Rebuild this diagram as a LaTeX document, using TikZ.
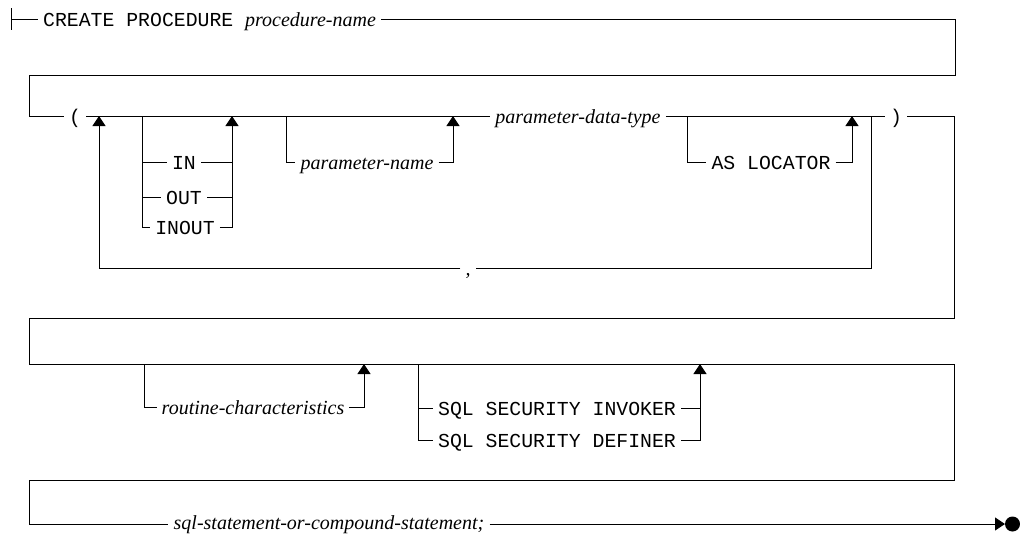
\documentclass[tikz,border=0pt]{standalone}
\usepackage{fontspec}
\setmainfont{Liberation Serif}
\setmonofont{Liberation Mono}
\usetikzlibrary{arrows.meta}
\newcommand\kwfont{\fontsize{19.8}{22}\selectfont\ttfamily}
\newcommand\varfont{\fontsize{20}{22}\selectfont\rmfamily\itshape}
\tikzset{
  rail/.style={line width=1pt},
  up/.style={rail,-{Triangle[width=13pt,length=10pt]}},
  kw/.style={font=\kwfont,inner xsep=5pt,inner ysep=0pt,text height=15pt,text depth=0pt,anchor=center},
  var/.style={font=\varfont,inner xsep=5pt,inner ysep=0pt,text height=15pt,text depth=0pt,anchor=center},
}

\begin{document}
\begin{tikzpicture}[x=1pt,y=-1pt]
  \useasboundingbox (0,0) rectangle (1020,536);
  % row 1
  \coordinate (s) at (11,19);
  \draw[rail] (11,8) -- (11,30);
  \node[kw,anchor=west] (create) at (38,19) {CREATE PROCEDURE {\varfont procedure-name}};
  \coordinate (r1) at (955,75); \coordinate (l1) at (29,75);
  \draw[rail] (s) -- (create.west);
  % row 2
  \node[kw] (lp) at (75,116) {(};
  \node[var] (pdt) at (578,116) {parameter-data-type};
  \node[kw] (rp) at (896,116) {)};
  \draw[rail] (create.east) -| (r1) -- (l1) |- (lp.west);
  \draw[rail] (lp.east) -- (pdt.west);
  \draw[rail] (pdt.east) -- (rp.west);
  \coordinate (j1) at (99,116);  \coordinate (j2) at (142,116);
  \coordinate (j3) at (232,116); \coordinate (j4) at (286,116);
  \coordinate (j5) at (453,116); \coordinate (j6) at (687,116);
  \coordinate (j7) at (852,116); \coordinate (j8) at (871,116);
  \node[kw] (in) at (184,162) {IN};
  \node[kw] (out) at (184,197) {OUT};
  \node[kw] (inout) at (185,227) {INOUT};
  \draw[rail] (j2) |- (inout.west);
  \draw[rail] (j2 |- in.west) -- (in.west);
  \draw[rail] (j2 |- out.west) -- (out.west);
  \draw[rail] (in.east) -- (in.east -| j3);
  \draw[rail] (out.east) -- (out.east -| j3);
  \draw[up] (inout.east) -| (j3);
  \node[var] (pname) at (367,162) {parameter-name};
  \draw[rail] (j4) |- (pname.west);
  \draw[up] (pname.east) -| (j5);
  \node[kw] (loc) at (771,162) {AS LOCATOR};
  \draw[rail] (j6) |- (loc.west);
  \draw[up] (loc.east) -| (j7);
  \node[var] (comma) at (468,268) {,};
  \draw[rail] (j8) |- (comma.east);
  \draw[up] (comma.west) -| (j1);
  % row 3
  \coordinate (r2) at (954,318); \coordinate (l2) at (29,318);
  \coordinate (a3) at (29,364);  \coordinate (b3) at (954,364);
  \coordinate (r3) at (954,480); \coordinate (l3) at (29,480);
  \node[var,text height=10pt] (sql) at (329,524) {sql-statement-or-compound-statement;};
  \draw[rail] (rp.east) -| (r2) -- (l2) -- (a3) -- (b3) -- (r3) -- (l3) |- (sql.west);
  \coordinate (k1) at (144,364); \coordinate (k2) at (364,364);
  \coordinate (k3) at (418,364); \coordinate (k4) at (700,364);
  \node[var] (rout) at (253,407) {routine-characteristics};
  \draw[rail] (k1) |- (rout.west);
  \draw[up] (rout.east) -| (k2);
  \node[kw] (inv) at (557,408) {SQL SECURITY INVOKER};
  \node[kw] (def) at (557,440) {SQL SECURITY DEFINER};
  \draw[rail] (k3) |- (def.west);
  \draw[rail] (k3 |- inv.west) -- (inv.west);
  \draw[rail] (inv.east) -- (inv.east -| k4);
  \draw[up] (def.east) -| (k4);
  % row 4
  \coordinate (stop) at (1005,524);
  \draw[up] (sql.east) -- (stop);
  \fill (stop) ++(7.5,0) circle (7.5);
\end{tikzpicture}
\end{document}
